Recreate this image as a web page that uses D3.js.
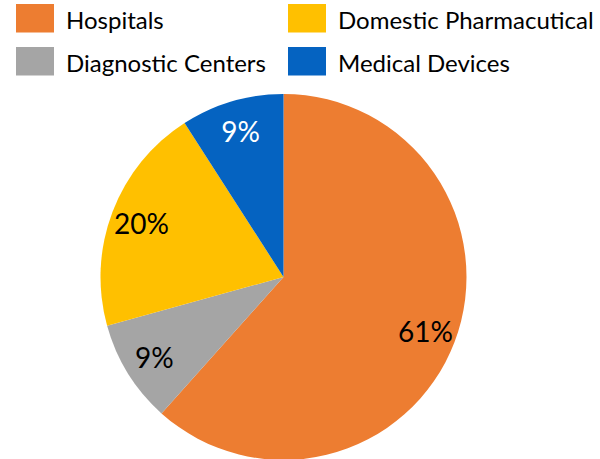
<!DOCTYPE html>
<html><head><meta charset="utf-8">
<script src="https://cdn.jsdelivr.net/npm/d3@7"></script>
<style>body{margin:0;background:#fff}svg{display:block}</style>
</head><body>
<svg id="c" width="600" height="459"></svg>
<script>
const categories = ["Hospitals", "Diagnostic Centers", "Domestic Pharmaceutical", "Medical Devices"];
const values = [61, 9, 20, 9];
const legendLabels = ["Hospitals", "Domestic Pharmacutical", "Diagnostic Centers", "Medical Devices"];
const legendKeys = ["Hospitals", "Domestic Pharmaceutical", "Diagnostic Centers", "Medical Devices"];
const colors = {"Hospitals":"#ED7D31","Diagnostic Centers":"#A5A5A5","Domestic Pharmaceutical":"#FFC000","Medical Devices":"#0563C1"};
const labelColors = {"Hospitals":"#000","Diagnostic Centers":"#000","Domestic Pharmaceutical":"#000","Medical Devices":"#fff"};

const svg = d3.select("#c");
const font = "Lato, 'Open Sans', sans-serif";
const cx = 283.5, cy = 277, r = 183;
const data = categories.map((c,i)=>({cat:c, v:values[i]}));
const pie = d3.pie().value(d=>d.v).sort(null);
const arcs = pie(data);
const arc = d3.arc().innerRadius(0).outerRadius(r);
const labelArc = d3.arc().innerRadius(152).outerRadius(152);
const g = svg.append("g").attr("transform",`translate(${cx},${cy})`);
g.selectAll("path").data(arcs).join("path")
  .attr("d",arc).attr("fill",d=>colors[d.data.cat]);
g.selectAll("text").data(arcs).join("text")
  .attr("transform",d=>`translate(${labelArc.centroid(d)})`)
  .attr("text-anchor","middle").attr("dominant-baseline","central")
  .attr("font-family",font).attr("font-size",28)
  .attr("fill",d=>labelColors[d.data.cat])
  .text(d=>d.data.v+"%");

const lg = svg.append("g");
legendKeys.forEach((k,i)=>{
  const col = i%2, row = Math.floor(i/2);
  const x = col===0 ? 16 : 288, y = row===0 ? 4 : 47;
  lg.append("rect").attr("x",x).attr("y",y).attr("width",38).attr("height",28.5).attr("fill",colors[k]);
  lg.append("text").attr("x",x+50).attr("y",y+24.5)
    .attr("font-family",font).attr("font-size",24).attr("fill","#000")
    .text(legendLabels[i]);
});
</script>
</body></html>
